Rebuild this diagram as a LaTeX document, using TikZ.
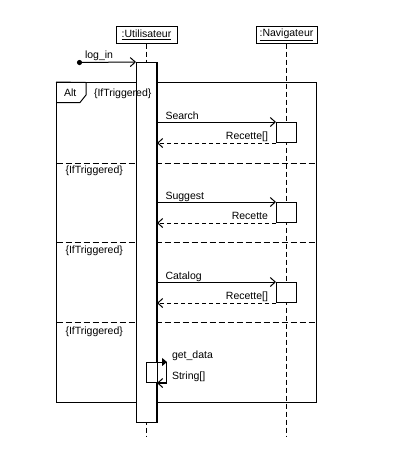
\documentclass[tikz,border=0pt]{standalone}
\usepackage{fontspec}
\setmainfont{Liberation Sans}
\usetikzlibrary{arrows.meta}
\begin{document}
\begin{tikzpicture}[x=1pt,y=-1pt,line width=1pt,
  every node/.style={font=\fontsize{10.5}{12}\selectfont},
  head/.style={draw,fill=white,minimum width=61pt,minimum height=17pt,inner sep=0pt},
  bar/.style={draw,fill=white,minimum width=20pt,inner sep=0pt},
  lifeline/.style={dash pattern=on 5pt off 3pt},
  sep/.style={dash pattern=on 6pt off 3pt},
  msg/.style={-{Straight Barb[length=5pt,width=9pt]}},
  ret/.style={dash pattern=on 4pt off 3pt,-{Straight Barb[length=5pt,width=9pt]}},
  call/.style={-{Triangle[length=5pt,width=8pt]}},
  lbl/.style={anchor=base west,inner sep=0pt},
  rlbl/.style={anchor=base east,inner sep=0pt}]
\useasboundingbox (0,0) rectangle (400,459);
% frame
\node[draw,minimum width=260pt,minimum height=320pt,inner sep=0pt] (frame) at (186.5,242.5) {};
\draw (frame.north west) -- (86,82.5) -- (86,95) -- (80,102.5) -- (56.5,102.5);
\node[lbl] (alt) at (63.5,96) {Alt};
\coordinate (s1l) at (56.5,163); \coordinate (s1r) at (316.5,163);
\coordinate (s2l) at (56.5,242.5); \coordinate (s2r) at (316.5,242.5);
\coordinate (s3l) at (56.5,322.5); \coordinate (s3r) at (316.5,322.5);
\draw[sep] (s1l) -- (s1r);
\draw[sep] (s2l) -- (s2r);
\draw[sep] (s3l) -- (s3r);
\node[lbl] (g2) at (65,173.5) {\{IfTriggered\}};
\node[lbl] (g3) at (65,253.5) {\{IfTriggered\}};
\node[lbl] (g4) at (65,334) {\{IfTriggered\}};
% heads and lifelines
\node[head] (U) at (146.5,34.5) {\underline{:Utilisateur}};
\node[head] (N) at (286.5,34.5) {\underline{:Navigateur}};
\coordinate (Uend) at (146.5,437);
\coordinate (Nend) at (286.5,437);
\draw[lifeline] (U.south) -- (Uend);
\draw[lifeline] (N.south) -- (Nend);
% activations
\node[bar,minimum height=360pt] (ua) at (146.5,242.5) {};
\node[bar,minimum height=20pt] (n1) at (286.5,132.5) {};
\node[bar,minimum height=20pt] (n2) at (286.5,212.5) {};
\node[bar,minimum height=20pt] (n3) at (286.5,292.5) {};
\node[bar,minimum height=20pt] (self) at (156.5,372.5) {};
\node[lbl] (g1) at (93.5,96) {\{IfTriggered\}};
% log_in
\coordinate (start) at (79.5,62.5);
\fill (start) circle (2.6pt);
\draw[msg] (start) -- (ua.north west);
\node[lbl] (llog) at (84.5,58.5) {log\_in};
% Search
\draw[msg] (ua.east |- n1.north) -- (n1.north west);
\draw[ret] (n1.south west) -- (ua.east |- n1.south);
\node[lbl] at (165,119.3) {Search};
\node[rlbl] at (268.5,139.3) {Recette[]};
% Suggest
\draw[msg] (ua.east |- n2.north) -- (n2.north west);
\draw[ret] (n2.south west) -- (ua.east |- n2.south);
\node[lbl] at (165,199.3) {Suggest};
\node[rlbl] at (268.5,219.3) {Recette};
% Catalog
\draw[msg] (ua.east |- n3.north) -- (n3.north west);
\draw[ret] (n3.south west) -- (ua.east |- n3.south);
\node[lbl] at (165,279.3) {Catalog};
\node[rlbl] at (268.5,299.3) {Recette[]};
% self message
\draw[call] (ua.east |- self.north) -- (self.north east);
\draw[msg] (self.south east) -- (ua.east |- self.south);
\draw (ua.north east) -- (ua.south east);
\node[lbl] at (171.5,358.5) {get\_data};
\node[lbl] at (171.5,379) {String[]};
\end{tikzpicture}
\end{document}
